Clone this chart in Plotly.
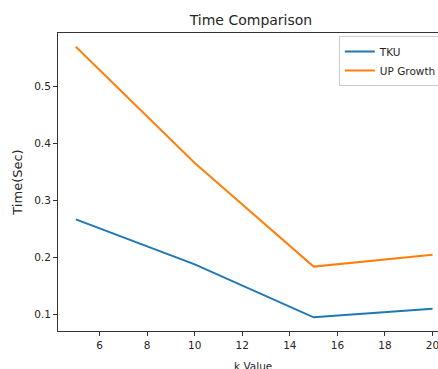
import plotly.graph_objects as go

k_values = [5, 10, 15, 20]
tku_time = [0.267, 0.188, 0.095, 0.110]
upgrowth_time = [0.570, 0.366, 0.184, 0.205]
x_ticks = [6, 8, 10, 12, 14, 16, 18, 20]
y_ticks = [0.1, 0.2, 0.3, 0.4, 0.5]

FONT = "DejaVu Sans"
fig = go.Figure()
fig.add_trace(go.Scatter(x=k_values, y=tku_time, mode="lines", name="TKU",
                         line=dict(color="#1f77b4", width=2)))
fig.add_trace(go.Scatter(x=k_values, y=upgrowth_time, mode="lines", name="UP Growth",
                         line=dict(color="#ff7f0e", width=2)))

PLOT_H = 369 - 33 - 38
fig.update_layout(
    width=438, height=369,
    margin=dict(l=58, r=0, t=33, b=38, autoexpand=False),
    paper_bgcolor="white", plot_bgcolor="white",
    font=dict(family=FONT, size=10.5, color="#262626"),
    title=dict(text="Time Comparison", x=0.573, xref="container", xanchor="center",
               y=1 - 20 / 369, yref="container", yanchor="middle",
               font=dict(size=14, color="#262626")),
    showlegend=True,
    legend=dict(x=0.739, y=0.99, xanchor="left", yanchor="top",
                bgcolor="white", bordercolor="#cccccc", borderwidth=1,
                font=dict(size=10.5), itemwidth=30, tracegroupgap=0),
    xaxis=dict(range=[4.25, 20.23], tickvals=x_ticks, showgrid=False, zeroline=False,
               showline=True, linecolor="#333333", linewidth=1, mirror=True,
               ticks="outside", ticklen=4, tickcolor="#333333",
               ticklabeloverflow="allow"),
    yaxis=dict(range=[0.071, 0.594], tickvals=y_ticks, showgrid=False, zeroline=False,
               showline=True, linecolor="#333333", linewidth=1,
               ticks="outside", ticklen=4, tickcolor="#333333",
               title=dict(text="Time(Sec)", standoff=8)),
    annotations=[dict(text="k Value", xref="paper", yref="paper",
                      x=(253 - 58) / 380, y=-(358 - 331) / PLOT_H,
                      xanchor="center", yanchor="top", showarrow=False,
                      font=dict(size=10.5, color="#262626"))],
)
fig.write_html("out.html", config={"displayModeBar": False},
               post_script="document.body.style.margin='0';document.body.style.overflow='hidden';")
